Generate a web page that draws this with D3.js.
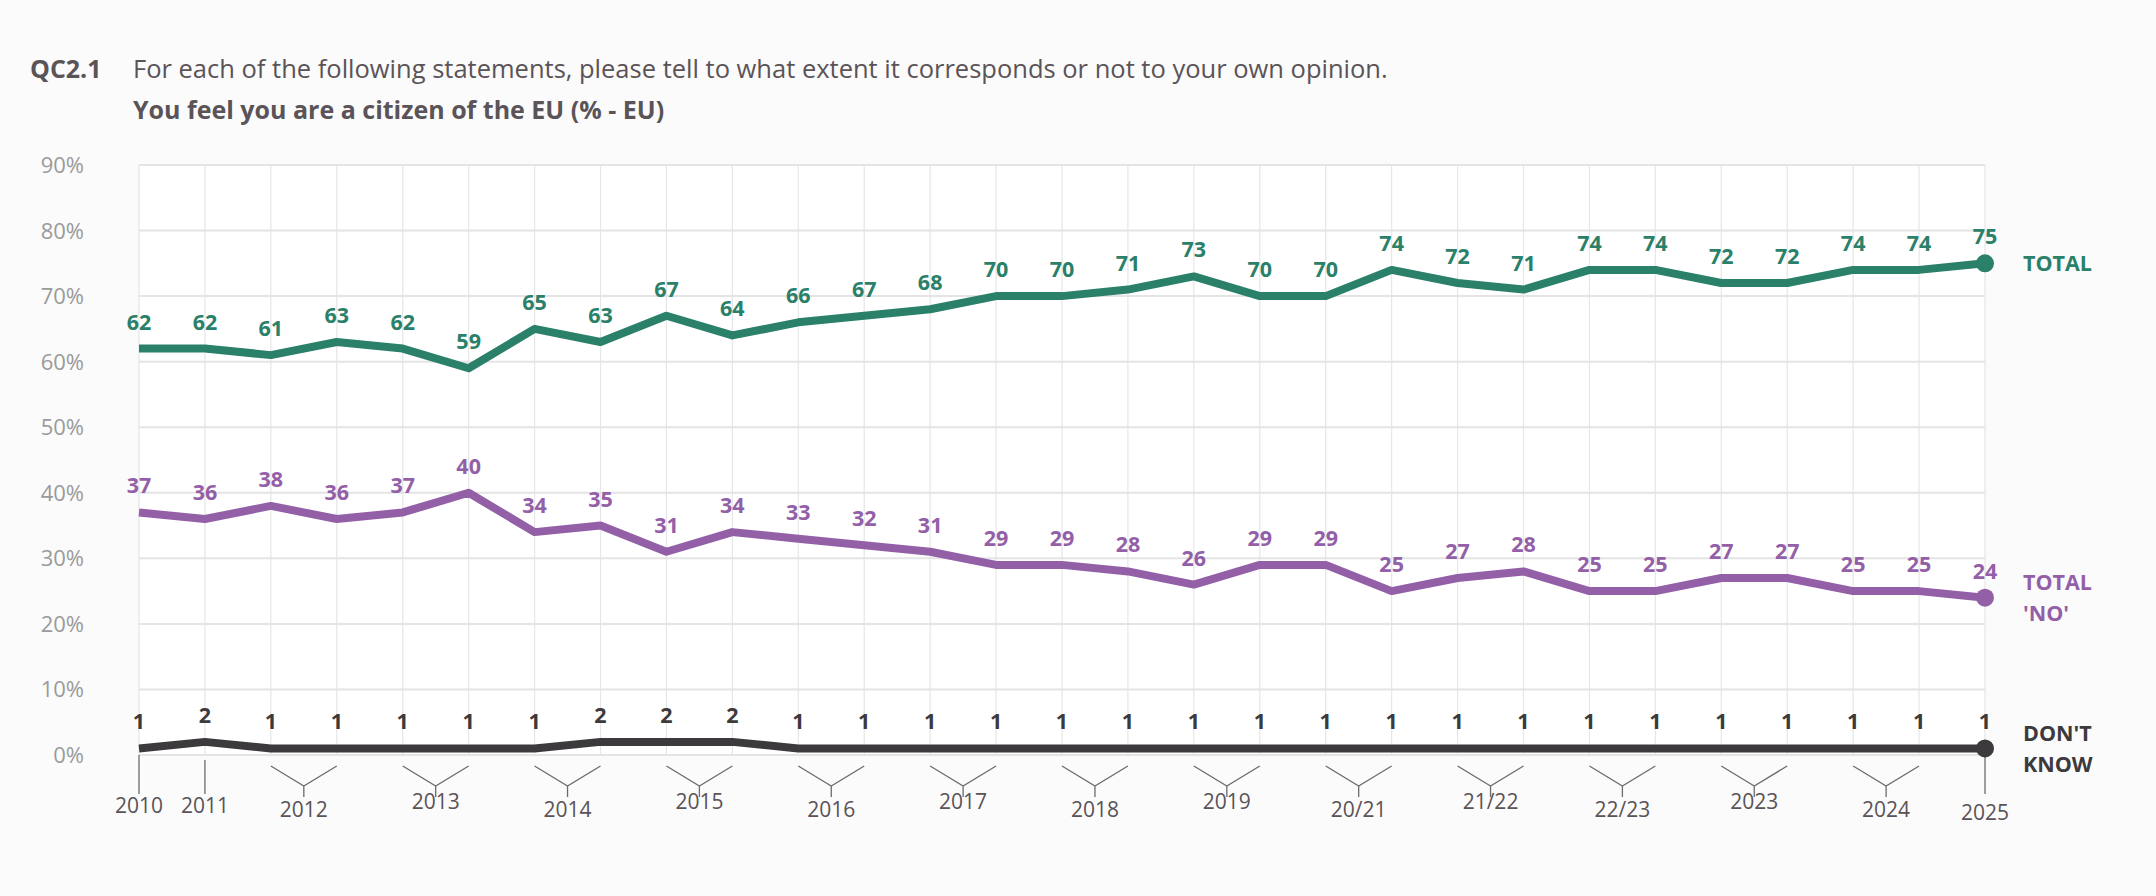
<!DOCTYPE html>
<html><head><meta charset="utf-8">
<script src="https://cdn.jsdelivr.net/npm/d3@7"></script>
<style>body{margin:0;background:#fbfbfb;}svg{display:block;}</style>
</head><body>
<svg id="c" width="2156" height="896"></svg>
<script>
const waves = d3.range(29);
const total = [62,62,61,63,62,59,65,63,67,64,66,67,68,70,70,71,73,70,70,74,72,71,74,74,72,72,74,74,75];
const totalNo = [37,36,38,36,37,40,34,35,31,34,33,32,31,29,29,28,26,29,29,25,27,28,25,25,27,27,25,25,24];
const dontKnow = [1,2,1,1,1,1,1,2,2,2,1,1,1,1,1,1,1,1,1,1,1,1,1,1,1,1,1,1,1];
// year groups: [label, first wave index, last wave index]
const yearGroups = [["2010",0,0],["2011",1,1],["2012",2,3],["2013",4,5],["2014",6,7],["2015",8,9],["2016",10,11],["2017",12,13],["2018",14,15],["2019",16,17],["20/21",18,19],["21/22",20,21],["22/23",22,23],["2023",24,25],["2024",26,27],["2025",28,28]];
const yTicks = [0,10,20,30,40,50,60,70,80,90];

const svg = d3.select("#c");
const x = d3.scaleLinear().domain([0,28]).range([139,1985]);
const y = d3.scaleLinear().domain([0,90]).range([755,165]);
const font = "'Open Sans', 'Noto Sans', sans-serif";

svg.append("rect").attr("x",139).attr("y",165).attr("width",1846).attr("height",590).attr("fill","#fff");

// title
svg.append("text").attr("x",30).attr("y",78).attr("font-family",font).attr("font-weight",700).attr("font-size",25).attr("fill","#5a5357").text("QC2.1");
svg.append("text").attr("x",133).attr("y",78).attr("font-family",font).attr("font-size",25.5).attr("fill","#5a5357").text("For each of the following statements, please tell to what extent it corresponds or not to your own opinion.");
svg.append("text").attr("x",133).attr("y",119).attr("font-family",font).attr("font-weight",700).attr("font-size",25).attr("fill","#5a5357").text("You feel you are a citizen of the EU (% - EU)");

// grid
const g = svg.append("g");
g.selectAll(".vg").data(waves).join("line").attr("x1",d=>x(d)).attr("x2",d=>x(d)).attr("y1",y(90)).attr("y2",y(0)).attr("stroke","#e6e6e6").attr("stroke-width",1.2);
g.selectAll(".hg").data(yTicks).join("line").attr("x1",139).attr("x2",1985).attr("y1",d=>y(d)).attr("y2",d=>y(d)).attr("stroke","#e4e4e4").attr("stroke-width",2);
g.selectAll(".yl").data(yTicks).join("text").attr("x",84).attr("y",d=>y(d)+8).attr("text-anchor","end").attr("font-family",font).attr("font-size",22).attr("fill","#9a9a9a").text(d=>d+"%");

// x axis brackets
const ax = svg.append("g").attr("stroke","#6b6b6b").attr("stroke-width",1.3).attr("fill","none");
yearGroups.forEach(([lab,a,b],i)=>{
  let labY;
  if(a===b){
    ax.append("line").attr("x1",x(a)).attr("x2",x(a)).attr("y1",y(0)+(i===1?5:0)).attr("y2",794);
    labY = i===15 ? 820 : 813;
  } else {
    const m=(x(a)+x(b))/2;
    ax.append("path").attr("d",`M${x(a)},${766}L${m},${786}L${x(b)},${766}M${m},${786}L${m},${797}`);
    labY = 813 + (i%2===0?4:-4);
  }
  svg.append("text").attr("x",(x(a)+x(b))/2).attr("y",labY).attr("text-anchor","middle").attr("font-family",font).attr("font-size",21).attr("fill","#5a5357").text(lab);
});

function series(vals,color,endLabel){
  const line=d3.line().x((d,i)=>x(i)).y(d=>y(d));
  svg.append("path").datum(vals).attr("d",line).attr("fill","none").attr("stroke",color).attr("stroke-width",8).attr("stroke-linejoin","round");
  svg.append("circle").attr("cx",x(28)).attr("cy",y(vals[28])).attr("r",9).attr("fill",color);
  svg.selectAll(null).data(vals).join("text").attr("x",(d,i)=>x(i)).attr("y",d=>y(d)-19).attr("text-anchor","middle").attr("font-family",font).attr("font-weight",700).attr("font-size",21.5).attr("fill",color).text(d=>d);
  const t=svg.append("text").attr("font-family",font).attr("font-weight",700).attr("font-size",21.5).attr("fill",color);
  const n=endLabel.length;
  endLabel.forEach((s,k)=>t.append("tspan").attr("x",2023).attr("y",y(vals[28])+8+(k-(n-1)/2)*31).text(s));
}
series(total,"#2a8068",["TOTAL"]);
series(totalNo,"#9360a8",["TOTAL","'NO'"]);
series(dontKnow,"#3c3a3d",["DON'T","KNOW"]);
</script>
</body></html>
